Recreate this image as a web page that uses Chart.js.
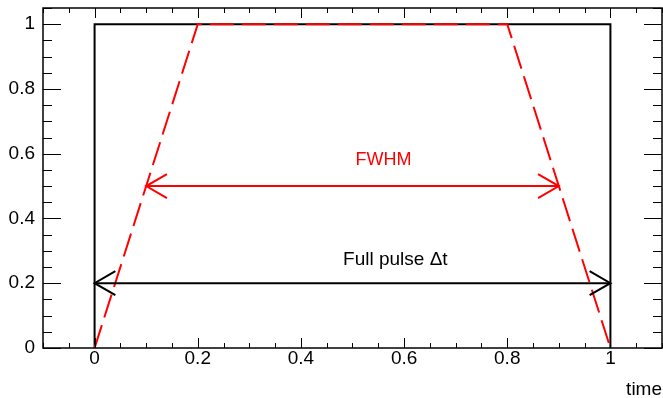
<!DOCTYPE html>
<html>
<head>
<meta charset="utf-8">
<script src="https://cdn.jsdelivr.net/npm/chart.js@4"></script>
<style>
  body { margin: 0; background: #fff; }
  #wrap { width: 663px; height: 398px; }
</style>
</head>
<body>
<div id="wrap"><canvas id="pulseChart" width="663" height="398"></canvas></div>
<script>
// rectangular pulse (full width)
const pulseX = [0, 0, 1, 1];
const pulseY = [0, 1, 1, 0];
// trapezoid pulse (rise / fall)
const trapX = [0, 0.2, 0.8, 1];
const trapY = [0, 1, 1, 0];
// double arrows: [x0, x1], y
const fullArrowX = [0, 1];
const fullArrowY = [0.2, 0.2];
const fwhmArrowX = [0.1, 0.9];
const fwhmArrowY = [0.5, 0.5];
// labels
const labelTexts = ["FWHM", "Full pulse \u0394t"];
const labelX = [0.56, 0.583];
const labelY = [0.582, 0.271];
const labelColors = ["#ff0000", "#000000"];
const labelSizes = [18, 19];
// axes
const xTicks = [0, 0.2, 0.4, 0.6, 0.8, 1];
const yTicks = [0, 0.2, 0.4, 0.6, 0.8, 1];
const xRange = [-0.1, 1.1];
const yRange = [0, 1.05];
const minorStep = 0.05;

const FONT = "'Liberation Sans', Arial, sans-serif";

function toPoints(xs, ys) {
  return xs.map((x, i) => ({ x: x, y: ys[i] }));
}

// marcas de los ejes hacia dentro (estilo ROOT) + marco
const frameAndTicks = {
  id: "frameAndTicks",
  afterDatasetsDraw(chart) {
    const ctx = chart.ctx;
    const a = chart.chartArea;
    const xs = chart.scales.x;
    const ys = chart.scales.y;
    ctx.save();
    ctx.strokeStyle = "#000";
    ctx.lineWidth = 1;
    ctx.beginPath();
    // x ticks (bottom and top)
    for (let v = Math.ceil(xRange[0] / minorStep) * minorStep; v <= xRange[1] + 1e-9; v += minorStep) {
      const major = Math.abs(v / 0.2 - Math.round(v / 0.2)) < 1e-6;
      const len = major ? 10 : 5;
      const px = Math.round(xs.getPixelForValue(v)) + 0.5;
      ctx.moveTo(px, a.bottom); ctx.lineTo(px, a.bottom - len);
      ctx.moveTo(px, a.top); ctx.lineTo(px, a.top + len);
    }
    // y ticks (left and right)
    for (let v = 0; v <= yRange[1] + 1e-9; v += minorStep) {
      const major = Math.abs(v / 0.2 - Math.round(v / 0.2)) < 1e-6;
      const len = major ? 18 : 9;
      const py = Math.round(ys.getPixelForValue(v)) + 0.5;
      ctx.moveTo(a.left, py); ctx.lineTo(a.left + len, py);
      ctx.moveTo(a.right, py); ctx.lineTo(a.right - len, py);
    }
    ctx.stroke();
    ctx.lineWidth = 1.5;
    ctx.strokeRect(a.left, a.top, a.right - a.left, a.bottom - a.top);

    // arrow heads on the arrow datasets
    chart.data.datasets.forEach((ds, i) => {
      if (!ds.arrow) return;
      const pts = chart.getDatasetMeta(i).data;
      const p0 = pts[0], p1 = pts[pts.length - 1];
      const ang = Math.atan2(p1.y - p0.y, p1.x - p0.x);
      ctx.strokeStyle = ds.borderColor;
      ctx.lineWidth = ds.borderWidth;
      [[p0, ang + Math.PI], [p1, ang]].forEach(([p, dir]) => {
        const L = 24, h = Math.PI / 6;
        ctx.beginPath();
        ctx.moveTo(p.x - L * Math.cos(dir - h), p.y - L * Math.sin(dir - h));
        ctx.lineTo(p.x, p.y);
        ctx.lineTo(p.x - L * Math.cos(dir + h), p.y - L * Math.sin(dir + h));
        ctx.stroke();
      });
    });

    // text labels
    ctx.textAlign = "center";
    ctx.textBaseline = "middle";
    labelTexts.forEach((t, i) => {
      ctx.font = labelSizes[i] + "px " + FONT;
      ctx.fillStyle = labelColors[i];
      ctx.fillText(t, xs.getPixelForValue(labelX[i]), ys.getPixelForValue(labelY[i]));
    });
    ctx.restore();
  }
};

const ctx = document.getElementById("pulseChart").getContext("2d");
new Chart(ctx, {
  type: "scatter",
  data: {
    datasets: [
      {
        data: toPoints(pulseX, pulseY),
        showLine: true, borderColor: "#000", borderWidth: 2,
        pointRadius: 0, order: 4
      },
      {
        data: toPoints(trapX, trapY),
        showLine: true, borderColor: "#ff0000", borderWidth: 2,
        borderDash: [24, 8], pointRadius: 0, order: 3
      },
      {
        data: toPoints(fullArrowX, fullArrowY),
        showLine: true, borderColor: "#000", borderWidth: 2,
        pointRadius: 0, order: 2, arrow: true
      },
      {
        data: toPoints(fwhmArrowX, fwhmArrowY),
        showLine: true, borderColor: "#ff0000", borderWidth: 2,
        pointRadius: 0, order: 1, arrow: true
      }
    ]
  },
  options: {
    responsive: false,
    animation: false,
    events: [],
    layout: { padding: { top: 8, right: 1, left: 0, bottom: 0 } },
    plugins: { legend: { display: false }, tooltip: { enabled: false } },
    scales: {
      x: {
        type: "linear",
        min: xRange[0], max: xRange[1],
        grid: { display: false },
        border: { display: false },
        afterBuildTicks: s => { s.ticks = xTicks.map(v => ({ value: v })); },
        afterFit: s => { s.height = 50; s.paddingLeft = 0; s.paddingRight = 0; },
        ticks: {
          autoSkip: false, maxRotation: 0, padding: -9,
          color: "#000", font: { family: FONT, size: 19 },
          callback: v => String(+v.toFixed(2))
        },
        title: {
          display: true, text: "time", align: "end",
          color: "#000", font: { family: FONT, size: 19 },
          padding: { top: 0, bottom: -3 }
        }
      },
      y: {
        type: "linear",
        min: yRange[0], max: yRange[1],
        grid: { display: false },
        border: { display: false },
        afterBuildTicks: s => { s.ticks = yTicks.map(v => ({ value: v })); },
        afterFit: s => { s.width = 43; s.paddingTop = 0; s.paddingBottom = 0; },
        ticks: {
          autoSkip: false, padding: 0,
          color: "#000", font: { family: FONT, size: 19 },
          callback: v => String(+v.toFixed(2))
        }
      }
    }
  },
  plugins: [frameAndTicks]
});
</script>
</body>
</html>
